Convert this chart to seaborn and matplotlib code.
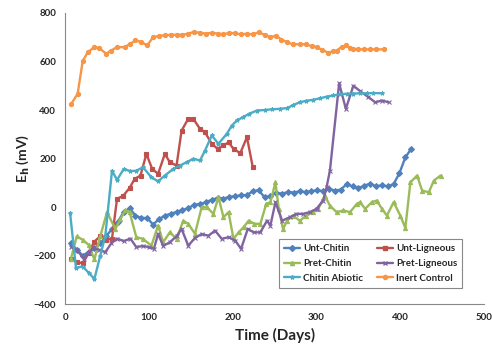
import pandas as pd
import seaborn as sns
import matplotlib.pyplot as plt

# 데이터 (Days, Eh mV)
unt_chitin_days = [7, 14, 21, 28, 35, 42, 49, 56, 63, 70, 77, 84, 91, 98, 105, 112, 119, 126, 133, 140,
                   147, 154, 161, 168, 175, 182, 189, 196, 203, 210, 217, 224, 231, 238, 245, 252, 259,
                   266, 273, 280, 287, 294, 301, 308, 315, 322, 329, 336, 343, 350, 357, 364, 371, 378,
                   385, 392, 399, 406, 413]
unt_chitin_eh = [-150, -175, -200, -185, -170, -150, -120, -90, -60, -20, -5, -35, -45, -45, -72, -50,
                 -35, -28, -20, -12, -5, 10, 12, 20, 30, 38, 35, 42, 45, 48, 50, 65, 70, 40, 45, 60, 55,
                 62, 60, 65, 62, 65, 70, 65, 75, 68, 72, 95, 85, 78, 88, 97, 85, 90, 85, 95, 140, 205, 240]

unt_lig_days = [7, 14, 21, 28, 35, 42, 49, 56, 62, 69, 77, 83, 90, 97, 104, 111, 119, 125, 133, 139,
                147, 153, 161, 167, 175, 182, 189, 195, 201, 209, 217, 224]
unt_lig_eh = [-215, -225, -232, -190, -142, -120, -135, -130, 35, 45, 79, 116, 130, 219, 157, 137, 219,
              185, 171, 315, 364, 364, 322, 308, 261, 240, 254, 267, 240, 222, 288, 164]

pret_chitin_days = [7, 14, 21, 28, 35, 42, 50, 60, 66, 72, 77, 85, 93, 103, 111, 117, 125, 133, 141, 147,
                    155, 163, 169, 177, 183, 189, 195, 201, 207, 213, 219, 226, 233, 240, 245, 251, 255,
                    260, 265, 272, 280, 288, 296, 302, 310, 316, 324, 332, 340, 348, 352, 358, 366, 372,
                    378, 384, 392, 400, 406, 412, 420, 426, 434, 440, 448]
pret_chitin_eh = [-213, -120, -135, -155, -216, -120, -21, -90, -50, -12, -21, -124, -131, -159, -76, -145,
                  -104, -131, -56, -69, -110, 0, 0, -28, 41, -42, -21, -131, -104, -83, -56, -69, -69, 13,
                  20, 102, -7, -90, -56, -35, -56, -35, -21, -7, 47, 6, -21, -14, -21, 13, 20, -7, 20, 27,
                  -7, -35, 20, -35, -86, 102, 130, 68, 61, 109, 130]

pret_lig_days = [7, 14, 22, 28, 33, 40, 48, 55, 62, 70, 78, 85, 93, 100, 106, 111, 117, 125, 133, 139,
                 147, 155, 163, 171, 179, 187, 195, 203, 210, 218, 225, 233, 241, 245, 251, 259, 268, 276,
                 284, 292, 300, 308, 312, 316, 327, 335, 344, 352, 362, 370, 378, 386]
pret_lig_eh = [-163, -175, -212, -190, -170, -175, -186, -150, -130, -140, -130, -165, -160, -165, -172,
               -110, -160, -145, -120, -90, -159, -127, -111, -118, -97, -131, -124, -138, -172, -90, -104,
               -104, -56, -76, 20, -56, -42, -28, -28, -21, -7, 27, 82, 150, 510, 405, 500, 478, 453, 432,
               439, 432]

abiotic_days = [6, 13, 21, 28, 35, 42, 48, 56, 62, 70, 78, 85, 93, 103, 111, 119, 129, 137, 145, 153,
                161, 167, 175, 183, 193, 199, 205, 212, 220, 229, 238, 247, 256, 265, 272, 280, 288, 296,
                304, 312, 320, 328, 336, 344, 352, 360, 368, 378]
abiotic_eh = [-25, -250, -245, -270, -296, -200, -118, 150, 112, 157, 148, 150, 164, 123, 106, 130, 157,
              171, 185, 199, 192, 233, 295, 261, 302, 336, 357, 370, 385, 398, 400, 403, 405, 408, 420,
              432, 438, 442, 448, 455, 460, 465, 467, 468, 469, 469, 470, 469]

inert_days = [7, 15, 21, 27, 35, 41, 49, 55, 62, 71, 78, 84, 91, 98, 105, 112, 119, 126, 133, 140, 147,
              154, 161, 168, 175, 182, 189, 196, 203, 210, 217, 224, 231, 238, 245, 252, 258, 265, 272,
              280, 288, 295, 300, 307, 314, 320, 324, 330, 335, 340, 344, 350, 357, 364, 371, 380]
inert_eh = [423, 467, 601, 638, 659, 655, 632, 645, 659, 659, 673, 687, 680, 666, 700, 705, 708, 710, 710,
            710, 715, 722, 718, 715, 718, 715, 712, 718, 716, 712, 714, 712, 720, 710, 700, 707, 690, 680,
            670, 672, 670, 662, 659, 648, 636, 642, 645, 660, 666, 655, 652, 650, 650, 650, 650, 650]

names = ["Unt-Chitin", "Unt-Ligneous", "Pret-Chitin", "Pret-Ligneous", "Chitin Abiotic", "Inert Control"]
series = [(unt_chitin_days, unt_chitin_eh), (unt_lig_days, unt_lig_eh),
          (pret_chitin_days, pret_chitin_eh), (pret_lig_days, pret_lig_eh),
          (abiotic_days, abiotic_eh), (inert_days, inert_eh)]

colors = ["#4F81BD", "#C0504D", "#9BBB59", "#8064A2", "#4BACC6", "#F79646"]
marks = ["D", "s", "^", "x", "*", "o"]

sns.set_style("white")
plt.rcParams['font.family'] = ['Lato', 'DejaVu Sans']
plt.rcParams['font.weight'] = 'bold'

fig = plt.figure(figsize=(4.93, 3.5), dpi=100)
ax = fig.add_axes([0.132, 0.131, 0.85, 0.832])

for n, (d, v), c, m in zip(names, series, colors, marks):
    sns.lineplot(x=d, y=v, color=c, marker=m, markersize=3, markeredgewidth=0.8,
                 markeredgecolor=c, linewidth=1.7, estimator=None, sort=False, ax=ax)

ax.set_xlim(0, 500)
ax.set_ylim(-400, 800)
ax.set_xticks(range(0, 501, 100))
ax.set_yticks(range(-400, 801, 200))
ax.tick_params(axis='both', labelsize=7, length=3, color='#888888', direction='out')
for lbl in ax.get_xticklabels() + ax.get_yticklabels():
    lbl.set_fontweight('bold')
for s in ['top', 'right']:
    ax.spines[s].set_visible(False)
for s in ['left', 'bottom']:
    ax.spines[s].set_color('#888888')
    ax.spines[s].set_linewidth(0.8)

ax.set_xlabel("Time (Days)", fontsize=11, fontweight='bold')
ax.set_ylabel(r"E$_\mathbf{h}$ (mV)", fontsize=10, fontweight='bold', labelpad=2)

# 범례 (행 순서로 채우기)
handles = [plt.Line2D([], [], color=c, marker=m, markersize=3, linewidth=1.7) for c, m in zip(colors, marks)]
order = [0, 2, 4, 1, 3, 5]
leg = ax.legend([handles[i] for i in order], [names[i] for i in order], ncol=2, loc='lower left',
                bbox_to_anchor=(0.5, 0.04), fancybox=False, framealpha=1, edgecolor='#888888',
                prop={'size': 7, 'weight': 'bold'}, handlelength=1.6, handletextpad=0.3,
                columnspacing=1.5, labelspacing=0.6, borderpad=0.5)
leg.get_frame().set_linewidth(0.8)

fig.savefig("out.png", dpi=100)
